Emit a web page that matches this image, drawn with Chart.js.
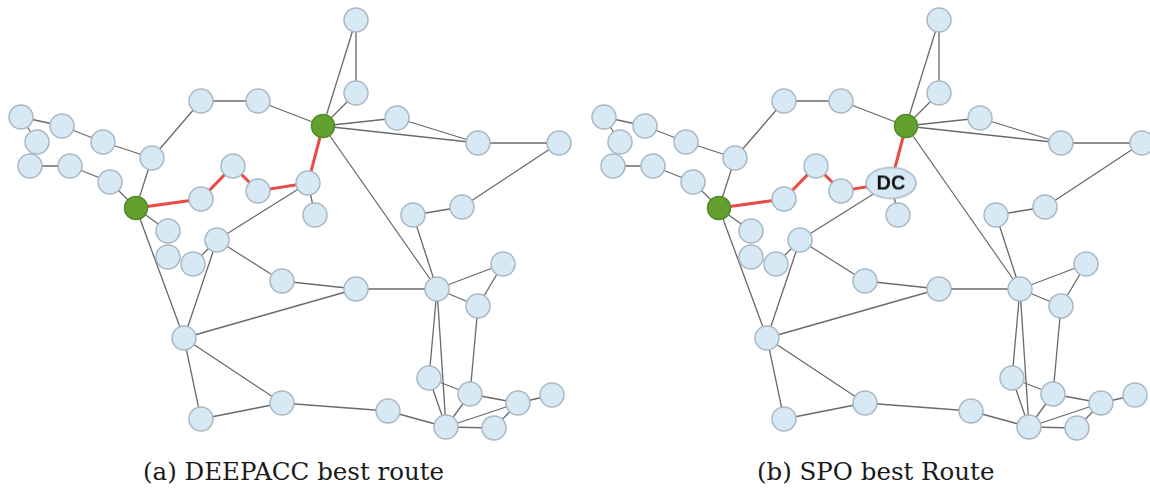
<!DOCTYPE html>
<html>
<head>
<meta charset="utf-8">
<script src="https://cdn.jsdelivr.net/npm/chart.js@4.4.1/dist/chart.umd.min.js"></script>
<style>
  body { margin: 0; background: #fff; width: 1150px; height: 493px; overflow: hidden; position: relative; }
  .panel { position: absolute; top: 0; width: 575px; height: 445px; }
  .caption { position: absolute; top: 457px; font-family: "DejaVu Serif", serif; font-size: 24.5px; color: #1a1a1a; white-space: nowrap; }
</style>
</head>
<body>
<div class="panel" style="left:0"><canvas id="chartA"></canvas></div>
<div class="panel" style="left:575px"><canvas id="chartB"></canvas></div>
<div class="caption" id="capA" style="left:143px"></div>
<div class="caption" id="capB" style="left:757px"></div>
<script>
// node positions (layout units, y grows downward)
const nodeX = [21, 62, 37, 103, 30, 70, 110, 152, 201, 258,
  136, 201, 233, 258, 308, 168, 217, 356, 356, 323,
  397, 478, 559, 315, 462, 413, 168, 193, 282, 356,
  184, 201, 282, 388, 437, 503, 478, 429, 470, 518,
  552, 446, 494];
const nodeY = [117, 126, 142, 142, 166, 166, 182, 158, 101, 101,
  208, 199, 166, 191, 183, 231, 240, 20, 93, 126,
  118, 143, 143, 215, 207, 215, 257, 264, 281, 289,
  338, 419, 403, 411, 289, 264, 306, 378, 394, 403,
  395, 427, 428];

// links between nodes (index pairs)
const edges = [
  [0, 1], [0, 2], [1, 3], [3, 7], [7, 8], [8, 9], [9, 19], [4, 5], [5, 6], [6, 10],
  [7, 10], [10, 15], [10, 30], [14, 16], [27, 16], [16, 30], [16, 28], [28, 29], [29, 34], [30, 29],
  [30, 31], [30, 32], [31, 32], [32, 33], [33, 41], [19, 34], [25, 34], [25, 24], [24, 22], [22, 21],
  [21, 20], [20, 19], [21, 19], [17, 19], [17, 18], [18, 19], [14, 23], [34, 35], [35, 36], [34, 36],
  [36, 38], [34, 37], [34, 41], [37, 38], [37, 41], [38, 41], [38, 39], [39, 40], [39, 41], [41, 42],
  [42, 39]
];

// best route found, start and end nodes
const bestRoute = [10, 11, 12, 13, 14, 19];
const endpoints = [10, 19];
const dcNode = 14;

const captions = ['(a) DEEPACC best route', '(b) SPO best Route'];

// ellipse marker with label for the DC node
function makeDcMarker() {
  const c = document.createElement('canvas');
  c.width = 54;
  c.height = 35;
  const g = c.getContext('2d');
  g.beginPath();
  g.ellipse(27, 17.5, 25, 15.5, 0, 0, Math.PI * 2);
  g.fillStyle = '#d7e9f5';
  g.fill();
  g.lineWidth = 1.5;
  g.strokeStyle = '#a9b8c4';
  g.stroke();
  g.fillStyle = '#111';
  g.font = 'bold 20px "Liberation Sans", Arial, sans-serif';
  g.textAlign = 'center';
  g.textBaseline = 'middle';
  g.fillText('DC', 27, 18.5);
  return c;
}

function buildChart(canvasId, xOffset, withDc) {
  const datasets = [];

  edges.forEach(([a, b]) => {
    datasets.push({
      data: [{ x: nodeX[a], y: nodeY[a] }, { x: nodeX[b], y: nodeY[b] }],
      showLine: true,
      borderColor: '#6a6a6a',
      borderWidth: 1.3,
      pointRadius: 0,
      order: 3
    });
  });

  datasets.push({
    data: bestRoute.map(i => ({ x: nodeX[i], y: nodeY[i] })),
    showLine: true,
    borderColor: '#ec4a45',
    borderWidth: 3,
    pointRadius: 0,
    order: 2
  });

  const dcMarker = withDc ? makeDcMarker() : null;
  const nodes = nodeX.map((x, i) => ({ x: x, y: nodeY[i] }));
  datasets.push({
    data: nodes,
    showLine: false,
    pointRadius: nodes.map((p, i) => endpoints.includes(i) ? 11.5 : 12),
    pointStyle: nodes.map((p, i) => (withDc && i === dcNode) ? dcMarker : 'circle'),
    pointBackgroundColor: nodes.map((p, i) => endpoints.includes(i) ? '#62a030' : '#d7e9f5'),
    pointBorderColor: nodes.map((p, i) => endpoints.includes(i) ? '#4f8a24' : '#a9b8c4'),
    pointBorderWidth: 1.5,
    order: 1
  });

  return new Chart(document.getElementById(canvasId), {
    type: 'scatter',
    data: { datasets: datasets },
    options: {
      responsive: true,
      maintainAspectRatio: false,
      animation: false,
      layout: { padding: 0, autoPadding: false },
      plugins: { legend: { display: false }, tooltip: { enabled: false } },
      events: [],
      scales: {
        x: { type: 'linear', display: false, min: 0 - xOffset, max: 575 - xOffset },
        y: { type: 'linear', display: false, reverse: true, min: 0, max: 445 }
      }
    }
  });
}

buildChart('chartA', 0, false);
buildChart('chartB', 8, true);
document.getElementById('capA').textContent = captions[0];
document.getElementById('capB').textContent = captions[1];
</script>
</body>
</html>
